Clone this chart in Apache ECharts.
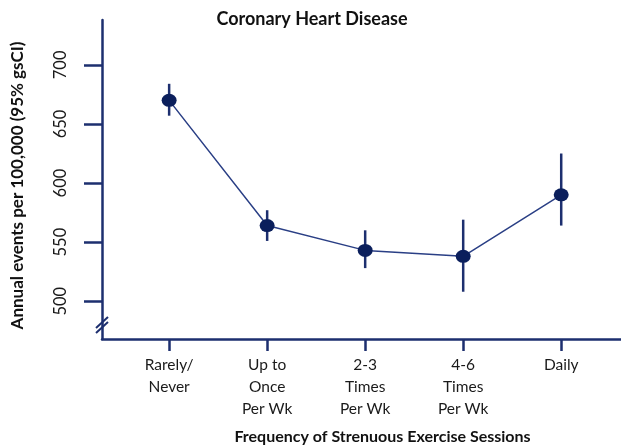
<!DOCTYPE html>
<html>
<head>
<meta charset="utf-8">
<script src="https://cdn.jsdelivr.net/npm/echarts@6/dist/echarts.min.js"></script>
<style>
  html, body { margin: 0; padding: 0; background: #fff; }
  #chart { width: 621px; height: 446px; }
</style>
</head>
<body>
<div id="chart"></div>
<script>
// exercise frequency groups (x positions 1..5)
const categories = ['Rarely/\nNever', 'Up to\nOnce\nPer Wk', '2-3\nTimes\nPer Wk', '4-6\nTimes\nPer Wk', 'Daily']
const positions = [1, 2, 3, 4, 5]
// annual events per 100,000 with 95% interval
const estimates = [670, 564, 543, 538, 590]
const lower = [657, 551, 528, 508, 564]
const upper = [684, 577, 560, 569, 625]
const yTicks = [500, 550, 600, 650, 700]

const navy = '#1d2f6f'
const dot = '#0b1f5c'
const font = 'Lato, "Open Sans", sans-serif'

const chart = echarts.init(document.getElementById('chart'))

const points = positions.map((x, i) => [x, estimates[i]])
const bars = positions.map((x, i) => [x, lower[i], upper[i]])

chart.setOption({
  animation: false,
  textStyle: { fontFamily: font },
  title: {
    text: 'Coronary Heart Disease',
    left: 307,
    top: 5,
    textAlign: 'center',
    textStyle: { fontSize: 18, fontWeight: 'bold', color: '#111', fontFamily: font }
  },
  grid: { left: 102, right: 0, top: 20, bottom: 107, outerBoundsMode: 'none' },
  xAxis: {
    type: 'value',
    min: 0.315,
    max: 5.61,
    name: 'Frequency of Strenuous Exercise Sessions',
    nameLocation: 'middle',
    nameGap: 90,
    nameTextStyle: { fontSize: 16, fontWeight: 'bold', color: '#111', padding: [0, 0, 0, 42] },
    axisLine: { show: true, lineStyle: { color: navy, width: 2.5 } },
    axisTick: { show: true, customValues: positions, length: 12, lineStyle: { color: navy, width: 2.5 } },
    axisLabel: {
      customValues: positions,
      formatter: v => categories[Math.round(v) - 1],
      fontSize: 15.5, lineHeight: 22, color: '#1a1a1a', margin: 15
    },
    splitLine: { show: false }
  },
  yAxis: {
    type: 'value',
    min: 468,
    max: 738,
    name: 'Annual events per 100,000 (95% gsCI)',
    nameLocation: 'middle',
    nameRotate: 90,
    nameGap: 76,
    nameTextStyle: { fontSize: 17, fontWeight: 'bold', color: '#111', padding: [0, 12, 0, 0] },
    axisLine: { show: true, lineStyle: { color: navy, width: 2.5 } },
    axisTick: { show: true, customValues: yTicks, length: 18, lineStyle: { color: navy, width: 2.5 } },
    axisLabel: { customValues: yTicks, rotate: 90, fontSize: 16.5, color: '#1a1a1a', margin: 33 },
    splitLine: { show: false }
  },
  graphic: [
    { type: 'line', shape: { x1: 96, y1: 333, x2: 108, y2: 322 }, style: { stroke: navy, lineWidth: 2 } },
    { type: 'line', shape: { x1: 96, y1: 328, x2: 108, y2: 317 }, style: { stroke: navy, lineWidth: 2 } }
  ],
  series: [
    {
      type: 'custom',
      data: bars,
      renderItem: (params, api) => {
        const lo = api.coord([api.value(0), api.value(1)])
        const hi = api.coord([api.value(0), api.value(2)])
        return {
          type: 'line',
          shape: { x1: lo[0], y1: lo[1], x2: hi[0], y2: hi[1] },
          style: { stroke: navy, lineWidth: 2.5 }
        }
      },
      z: 2
    },
    {
      type: 'line',
      data: points,
      symbol: 'circle',
      symbolSize: [15, 13],
      lineStyle: { color: '#2a3f85', width: 1.5 },
      itemStyle: { color: dot },
      z: 3
    }
  ]
})
</script>
</body>
</html>
